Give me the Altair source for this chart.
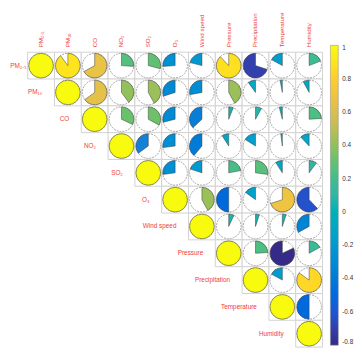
import altair as alt
import pandas as pd
import math

names = ["PM\u2082.\u2085", "PM\u2081\u2080", "CO", "NO\u2082", "SO\u2082", "O\u2083",
         "Wind speed", "Pressure", "Precipitation", "Temperature", "Humidity"]

# upper-triangle correlation rows (starting at the diagonal)
r_pm25 = [1, 0.90, 0.67, 0.26, 0.29, -0.26, -0.21, 0.88, -0.70, -0.17, 0.19]
r_pm10 = [1, 0.65, 0.40, 0.42, -0.30, -0.28, 0.42, -0.10, -0.03, -0.08]
r_co = [1, 0.32, 0.33, -0.29, -0.37, 0.06, 0.08, -0.04, 0.24]
r_no2 = [1, -0.35, -0.27, -0.39, -0.09, -0.16, -0.02, -0.12]
r_so2 = [1, -0.27, -0.20, 0.22, 0.27, -0.09, 0.10]
r_o3 = [1, 0.42, -0.50, -0.15, 0.70, -0.62]
r_ws = [1, 0.07, 0.05, 0.05, -0.33]
r_pres = [1, 0.24, -0.82, 0.17]
r_prec = [1, -0.17, 0.85]
r_temp = [1, -0.50]
r_hum = [1]

rows = [r_pm25, r_pm10, r_co, r_no2, r_so2, r_o3, r_ws, r_pres, r_prec, r_temp, r_hum]

cbar_ticks = [-0.8, -0.6, -0.4, -0.2, 0, 0.2, 0.4, 0.6, 0.8, 1]
parula = ["#352a87", "#0f5cdd", "#1481d6", "#06a4ca", "#2eb7a4",
          "#6cc16a", "#d1bb59", "#fec832", "#f9fb0e"]

recs = []
for i, row in enumerate(rows):
    for k, r in enumerate(row):
        recs.append({"i": i, "j": i + k, "r": r})
df = pd.DataFrame(recs)
lab = pd.DataFrame({"i": list(range(len(names))), "name": names})

lo, hi = -0.8, 1.0
dom = [lo + (hi - lo) * k / (len(parula) - 1) for k in range(len(parula))]

xs = alt.Scale(domain=[-0.5, 10.5])
ys = alt.Scale(domain=[-0.5, 10.5], reverse=True)
TAU = 2 * math.pi
RAD = 12.5
RED = "#f03c3c"
FONT = "Liberation Sans"

base = alt.Chart(df).transform_calculate(
    x0="datum.j - 0.5", x1="datum.j + 0.5",
    y0="datum.i - 0.5", y1="datum.i + 0.5",
    t0=f"datum.r >= 0 ? 0 : {TAU} * (1 + datum.r)",
    t1=f"datum.r >= 0 ? {TAU} * datum.r : {TAU}",
)

grid = base.mark_rect(fill="white", stroke="#d2d2d2", strokeWidth=1).encode(
    x=alt.X("x0:Q", scale=xs, axis=None),
    x2="x1:Q",
    y=alt.Y("y0:Q", scale=ys, axis=None),
    y2="y1:Q",
)

ring = base.mark_arc(theta=0, theta2=TAU, radius=RAD, fill="white",
                     stroke="#9a9a9a", strokeWidth=0.9, strokeDash=[2, 1]).encode(
    x=alt.X("j:Q", scale=xs, axis=None),
    y=alt.Y("i:Q", scale=ys, axis=None),
)

wedge = base.mark_arc(radius=RAD, stroke="#3a3a3a", strokeWidth=0.5).encode(
    x=alt.X("j:Q", scale=xs, axis=None),
    y=alt.Y("i:Q", scale=ys, axis=None),
    theta=alt.Theta("t0:Q", scale=None),
    theta2="t1:Q",
    color=alt.Color(
        "r:Q",
        scale=alt.Scale(domain=dom, range=parula, clamp=True),
        legend=alt.Legend(
            title=None, orient="none", legendX=308, legendY=-7,
            direction="vertical", gradientLength=305, gradientThickness=8,
            gradientStrokeColor="#888", gradientStrokeWidth=0.5,
            values=cbar_ticks, labelExpr="datum.value + ''",
            labelFontSize=6.5, labelColor="#333", labelFont=FONT,
            labelOffset=4, padding=0,
        ),
    ),
)

col_lab = alt.Chart(lab).mark_text(
    angle=270, align="left", baseline="middle", fontSize=6.3, color=RED, font=FONT
).encode(
    x=alt.X("i:Q", scale=xs, axis=None),
    y=alt.value(-5),
    text="name:N",
)

row_lab = alt.Chart(lab).transform_calculate(
    xl="max(datum.i - 0.95, -0.54)"
).mark_text(
    align="right", baseline="middle", fontSize=6.5, color=RED, font=FONT
).encode(
    x=alt.X("xl:Q", scale=xs, axis=None),
    y=alt.Y("i:Q", scale=ys, axis=None),
    text="name:N",
)

chart = alt.layer(grid, ring, wedge, col_lab, row_lab).properties(
    width=300, height=300,
    autosize=alt.AutoSizeParams(type="none"),
    padding={"left": 20, "top": 42, "right": 32, "bottom": 2},
).configure_view(stroke=None)

chart.save("out.html", embed_options={"renderer": "svg", "actions": False})
